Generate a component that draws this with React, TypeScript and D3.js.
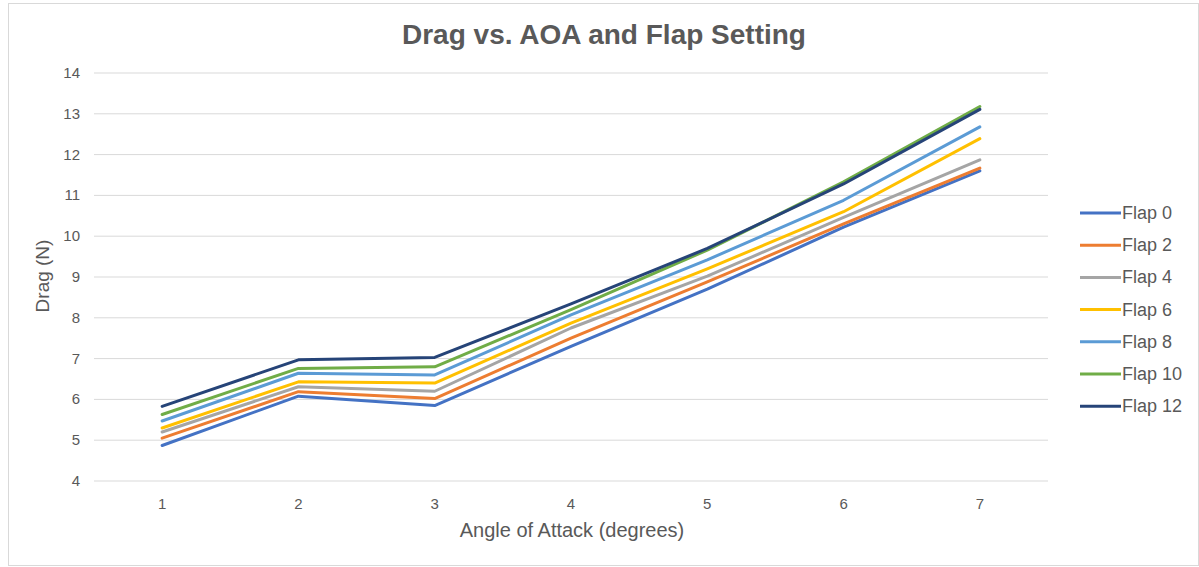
import React from "react";
import * as d3 from "d3";

const categories = ["1", "2", "3", "4", "5", "6", "7"];
const yTicks = [4, 5, 6, 7, 8, 9, 10, 11, 12, 13, 14];
const seriesNames = ["Flap 0", "Flap 2", "Flap 4", "Flap 6", "Flap 8", "Flap 10", "Flap 12"];
const flap0 = [4.87, 6.08, 5.85, 7.3, 8.7, 10.22, 11.6];
const flap2 = [5.05, 6.19, 6.02, 7.5, 8.88, 10.3, 11.67];
const flap4 = [5.2, 6.31, 6.2, 7.75, 9.02, 10.46, 11.87];
const flap6 = [5.3, 6.43, 6.4, 7.87, 9.2, 10.6, 12.39];
const flap8 = [5.47, 6.64, 6.6, 8.07, 9.42, 10.88, 12.68];
const flap10 = [5.63, 6.76, 6.8, 8.2, 9.66, 11.33, 13.18];
const flap12 = [5.83, 6.97, 7.03, 8.34, 9.7, 11.28, 13.11];
const seriesValues = [flap0, flap2, flap4, flap6, flap8, flap10, flap12];
const colors = ["#4472C4", "#ED7D31", "#A5A5A5", "#FFC000", "#5B9BD5", "#70AD47", "#264478"];

export default function App() {
  const W = 1199, H = 567;
  const left = 94, right = 1048, top = 73, bottom = 481;
  const x = d3.scaleBand<string>().domain(categories).range([left, right]);
  const y = d3.scaleLinear().domain([4, 14]).range([bottom, top]);
  const cx = (c: string) => (x(c) ?? 0) + x.bandwidth() / 2;
  const line = d3
    .line<number>()
    .x((_, i) => cx(categories[i]))
    .y((d) => y(d));
  const font = "'Liberation Sans', Arial, sans-serif";
  const textColor = "#595959";
  return (
    <svg
      width={W}
      height={H}
      style={{ position: "absolute", left: 0, top: 0, fontFamily: font }}
    >
      <rect x={0} y={0} width={W} height={H} fill="#fff" />
      <rect x={8.5} y={3.5} width={W - 9} height={H - 5} fill="#fff" stroke="#d9d9d9" />
      <text x={604} y={44} textAnchor="middle" fontSize={28} fontWeight="bold" fill={textColor}>
        Drag vs. AOA and Flap Setting
      </text>
      {yTicks.map((t) => (
        <g key={t}>
          <line x1={left} x2={right} y1={y(t)} y2={y(t)} stroke="#d9d9d9" strokeWidth={1} />
          <text x={80} y={y(t) + 5} textAnchor="end" fontSize={15} fill={textColor}>
            {t}
          </text>
        </g>
      ))}
      {categories.map((c) => (
        <text key={c} x={cx(c)} y={509} textAnchor="middle" fontSize={15} fill={textColor}>
          {c}
        </text>
      ))}
      <text x={572} y={537} textAnchor="middle" fontSize={20} fill={textColor}>
        Angle of Attack (degrees)
      </text>
      <text
        transform={`translate(49, 276) rotate(-90)`}
        textAnchor="middle"
        fontSize={19}
        fill={textColor}
      >
        Drag (N)
      </text>
      {seriesValues.map((vals, i) => (
        <path
          key={seriesNames[i]}
          d={line(vals) ?? ""}
          fill="none"
          stroke={colors[i]}
          strokeWidth={3}
          strokeLinejoin="round"
          strokeLinecap="round"
        />
      ))}
      {seriesNames.map((n, i) => {
        const ly = 213 + i * 32.2;
        return (
          <g key={n}>
            <line x1={1080} x2={1121} y1={ly} y2={ly} stroke={colors[i]} strokeWidth={3} />
            <text x={1122} y={ly + 6} fontSize={18} fill={textColor}>
              {n}
            </text>
          </g>
        );
      })}
    </svg>
  );
}
